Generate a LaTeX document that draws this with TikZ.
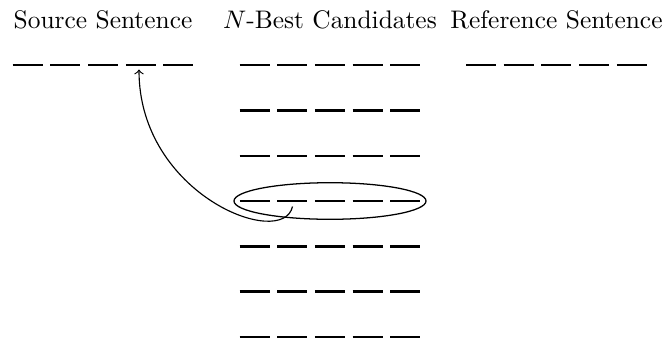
\documentclass[tikz,border=0pt]{standalone}
\usetikzlibrary{shapes.geometric}
\begin{document}
\begin{tikzpicture}[x=0.3937pt,y=-0.3937pt,
  wordrow/.style={line width=0.95pt,dash pattern=on 11.81pt off 3.03pt},
  title/.style={anchor=base,inner sep=0pt,font=\fontsize{10}{12}\selectfont},
  hl/.style={draw,ellipse,line width=0.5pt,minimum width=75.6pt,minimum height=14.4pt,inner sep=0pt},
  link/.style={->,line width=0.45pt}]
\useasboundingbox (0,0) rectangle (667,344);
% titles
\node[title] (tsrc) at (103,28.3) {Source Sentence};
\node[title] (tcand) at (330,28.3) {$N$-Best Candidates};
\node[title] (tref) at (556.5,28.3) {Reference Sentence};
% rows
\coordinate (s0) at (12.7,65); \coordinate (s1) at (193.5,65);
\coordinate (r0) at (466,65); \coordinate (r1) at (646.8,65);
\draw[wordrow] (s0) -- (s1);
\draw[wordrow] (r0) -- (r1);
\foreach \i/\y in {1/65,2/110.4,3/155.8,4/201.2,5/246.4,6/291.6,7/336.8}{
  \coordinate (c\i a) at (239.5,\y);
  \coordinate (c\i b) at (420.3,\y);
  \draw[wordrow] (c\i a) -- (c\i b);
}
% highlight
\node[hl] (sel) at (330,201) {};
\coordinate (from) at (292.5,206.5);
\coordinate (to) at (139,69.5);
\draw[link] (from) .. controls (283,250) and (139,195) .. (to);
\end{tikzpicture}
\end{document}
